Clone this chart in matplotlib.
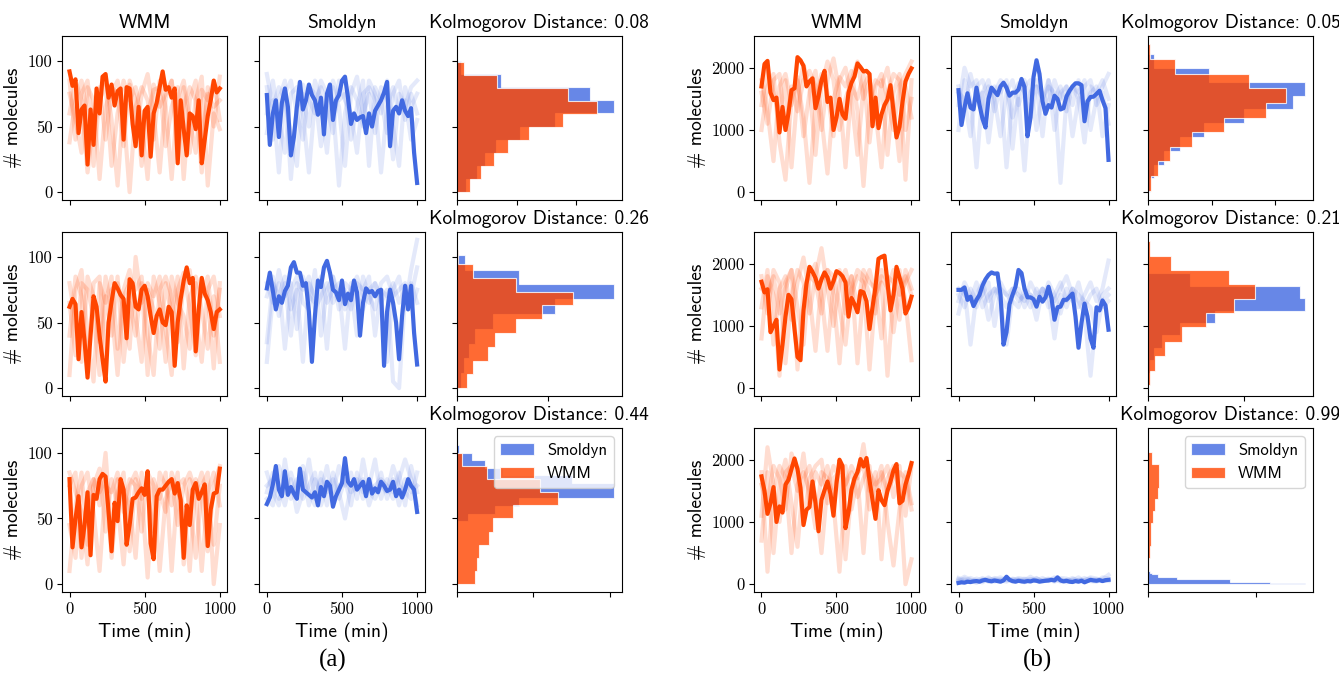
import numpy as np
import matplotlib
matplotlib.use('Agg')
import matplotlib.pyplot as plt

plt.rcParams['font.family'] = ['cmss10', 'DejaVu Sans']
plt.rcParams['axes.unicode_minus'] = False

WMM_COLOR = 'orangered'
SMOL_COLOR = 'royalblue'

# time grids (min)
t_main = np.arange(0, 1001, 20)
t_runs = np.arange(0, 1001, 40)

# ---------------- panel (a) ----------------
a1_wmm = [92, 81, 86, 45, 63, 66, 21, 63, 36, 79, 60, 88, 90, 72, 82, 66, 77, 79, 40, 80,
          79, 52, 35, 65, 28, 62, 65, 27, 60, 68, 80, 92, 78, 80, 72, 79, 22, 70, 48, 28,
          60, 58, 48, 70, 22, 40, 58, 70, 85, 76, 79]
a1_wmm_runs = [
    [38, 70, 85, 60, 20, 75, 88, 55, 5, 70, 82, 40, 75, 90, 60, 15, 72, 85, 50, 80, 30, 70, 88, 5, 60, 48],
    [75, 55, 30, 80, 70, 10, 65, 80, 75, 35, 85, 70, 20, 60, 78, 80, 35, 65, 80, 10, 70, 85, 40, 75, 65, 70],
    [60, 85, 70, 15, 55, 80, 40, 75, 85, 60, 0, 65, 80, 70, 40, 85, 65, 10, 72, 85, 55, 30, 78, 70, 85, 55],
    [85, 40, 75, 85, 45, 70, 82, 20, 60, 85, 70, 80, 55, 10, 82, 65, 75, 85, 25, 65, 80, 70, 15, 80, 50, 88],
]
a1_smol = [74, 36, 60, 70, 42, 68, 79, 65, 28, 42, 65, 84, 63, 70, 82, 74, 70, 59, 72, 44,
           75, 82, 55, 70, 74, 85, 88, 72, 52, 60, 55, 57, 58, 45, 60, 50, 62, 66, 70, 76,
           84, 35, 62, 65, 60, 70, 62, 58, 64, 30, 7]
a1_smol_runs = [
    [80, 40, 70, 85, 10, 65, 75, 50, 85, 70, 30, 80, 65, 20, 75, 88, 60, 75, 45, 80, 70, 25, 75, 65, 80, 85],
    [60, 85, 55, 30, 75, 80, 60, 15, 70, 80, 65, 45, 85, 70, 60, 30, 75, 80, 70, 15, 65, 80, 60, 70, 40, 55],
    [90, 65, 80, 70, 45, 20, 82, 70, 60, 85, 75, 65, 5, 60, 80, 70, 50, 85, 75, 60, 85, 50, 20, 80, 65, 75],
    [45, 70, 15, 75, 85, 60, 40, 80, 75, 35, 60, 85, 70, 75, 40, 65, 85, 20, 80, 70, 45, 75, 85, 55, 75, 60],
]

a2_wmm = [62, 68, 64, 22, 58, 36, 8, 40, 70, 62, 40, 22, 5, 50, 66, 80, 76, 71, 68, 38,
          83, 80, 62, 60, 75, 78, 70, 55, 42, 55, 60, 50, 48, 62, 58, 17, 50, 68, 82, 92,
          80, 84, 28, 60, 84, 72, 67, 58, 45, 58, 60]
a2_wmm_runs = [
    [10, 75, 90, 40, 5, 80, 65, 85, 30, 75, 90, 55, 20, 80, 70, 85, 45, 10, 75, 88, 60, 25, 80, 70, 15, 80],
    [80, 50, 20, 85, 70, 35, 85, 60, 10, 70, 80, 75, 85, 40, 10, 75, 85, 70, 35, 80, 90, 55, 20, 75, 85, 55],
    [40, 85, 70, 15, 80, 85, 25, 75, 80, 60, 30, 100, 65, 75, 60, 30, 80, 55, 85, 15, 70, 80, 60, 30, 70, 20],
    [65, 25, 80, 75, 55, 10, 70, 40, 85, 20, 65, 40, 80, 10, 85, 65, 20, 85, 65, 55, 30, 85, 70, 85, 40, 75],
]
a2_smol = [76, 88, 74, 60, 70, 65, 74, 78, 92, 96, 88, 88, 78, 80, 58, 20, 55, 82, 77, 92,
           97, 88, 75, 73, 67, 82, 64, 72, 67, 82, 73, 40, 65, 76, 73, 74, 70, 74, 75, 17,
           58, 75, 65, 50, 22, 55, 78, 60, 78, 42, 18]
a2_smol_runs = [
    [35, 80, 70, 85, 60, 75, 20, 80, 70, 85, 65, 75, 80, 60, 75, 85, 70, 65, 80, 70, 20, 75, 85, 60, 90, 113],
    [80, 65, 90, 70, 80, 45, 85, 70, 65, 80, 30, 85, 70, 75, 60, 80, 75, 85, 40, 75, 70, 80, 65, 75, 70, 92],
    [70, 85, 55, 80, 40, 80, 75, 85, 60, 70, 80, 65, 75, 30, 80, 70, 60, 75, 80, 65, 75, 5, 0, 70, 80, 65],
    [20, 70, 80, 30, 75, 85, 65, 60, 90, 40, 75, 85, 60, 80, 75, 40, 85, 70, 60, 80, 85, 70, 75, 80, 60, 75],
]

a3_wmm = [80, 28, 50, 67, 28, 45, 70, 22, 68, 65, 80, 84, 82, 55, 25, 62, 48, 80, 72, 30,
          45, 65, 66, 70, 73, 68, 86, 31, 19, 67, 72, 72, 75, 78, 80, 69, 77, 64, 20, 60,
          45, 72, 77, 65, 70, 76, 29, 57, 69, 70, 88]
a3_wmm_runs = [
    [10, 60, 85, 30, 75, 88, 40, 80, 60, 15, 75, 85, 70, 5, 80, 65, 85, 10, 75, 80, 60, 20, 75, 85, 0, 45],
    [75, 85, 20, 70, 80, 60, 100, 35, 80, 70, 60, 20, 85, 70, 40, 85, 75, 60, 85, 15, 80, 70, 85, 60, 30, 75],
    [45, 20, 75, 85, 55, 10, 75, 70, 85, 55, 80, 75, 40, 85, 75, 10, 65, 80, 45, 75, 85, 70, 10, 70, 85, 60],
    [85, 70, 55, 15, 80, 70, 80, 20, 70, 85, 25, 80, 65, 75, 20, 70, 55, 85, 70, 60, 10, 80, 65, 25, 75, 90],
]
a3_smol = [61, 66, 76, 90, 72, 67, 86, 68, 74, 69, 65, 88, 72, 70, 68, 66, 70, 60, 74, 67,
           78, 75, 59, 67, 72, 77, 96, 78, 75, 80, 72, 75, 78, 67, 80, 69, 73, 70, 78, 75,
           71, 72, 78, 67, 72, 66, 72, 80, 75, 72, 55]
a3_smol_runs = [
    [85, 70, 60, 95, 65, 75, 85, 60, 80, 70, 90, 65, 75, 80, 60, 85, 70, 75, 95, 65, 80, 70, 85, 60, 90, 70],
    [70, 85, 75, 60, 80, 55, 70, 95, 65, 80, 60, 85, 70, 50, 75, 80, 65, 80, 70, 85, 65, 80, 60, 80, 70, 75],
    [65, 60, 90, 75, 70, 80, 65, 75, 85, 60, 75, 70, 90, 75, 85, 65, 95, 70, 65, 75, 70, 90, 75, 70, 65, 85],
    [75, 80, 65, 70, 85, 70, 90, 70, 60, 85, 70, 80, 65, 80, 70, 75, 80, 60, 75, 80, 75, 65, 80, 95, 80, 60],
]

# histograms (density per bin, bottom -> top), bin edges in molecules
a1_hist_smol_edges = np.linspace(0, 100, 11)
a1_hist_smol = [0.0016, 0.0034, 0.0048, 0.0066, 0.0105, 0.0165, 0.0263, 0.0222, 0.0074, 0.0008]
a1_hist_wmm_edges = np.linspace(0, 99, 11)
a1_hist_wmm = [0.0022, 0.0041, 0.0063, 0.0086, 0.0120, 0.0177, 0.0234, 0.0186, 0.0067, 0.0013]

a2_hist_smol_edges = np.linspace(0, 113, 11)
a2_hist_smol = [0.0009, 0.0015, 0.0026, 0.0040, 0.0079, 0.0215, 0.0345, 0.0136, 0.0018, 0.0001]
a2_hist_wmm_edges = np.linspace(0, 105, 11)
a2_hist_wmm = [0.0022, 0.0035, 0.0068, 0.0085, 0.0131, 0.0187, 0.0254, 0.0131, 0.0035, 0.0002]

a3_hist_smol_edges = np.linspace(48, 106, 11)
a3_hist_smol = [0.003, 0.010, 0.0163, 0.041, 0.041, 0.030, 0.012, 0.0074, 0.004, 0.0007]
a3_hist_wmm_edges = np.linspace(0, 100, 11)
a3_hist_wmm = [0.0048, 0.0052, 0.0059, 0.0083, 0.0094, 0.0146, 0.0263, 0.0218, 0.0078, 0.0013]

ks_a = [0.08, 0.26, 0.44]

# ---------------- panel (b) ----------------
b1_wmm = [1700, 2060, 2110, 1600, 1480, 1520, 960, 1370, 1000, 1270, 1640, 1670, 2170, 2120, 2030,
          1700, 1780, 1830, 1350, 1540, 1800, 1950, 1450, 1520, 1000, 1200, 1500, 1250, 1180, 1600,
          1760, 1860, 2070, 2010, 1940, 1950, 1900, 1060, 1520, 1030, 1250, 1400, 1490, 1720, 1300,
          880, 1050, 1450, 1780, 1900, 1990]
b1_wmm_runs = [
    [1000, 1700, 1900, 800, 200, 1500, 1800, 1200, 150, 1400, 1900, 1600, 900, 1800, 2000, 1500, 600, 1700, 1900, 1100, 1800, 600, 1600, 1900, 1000, 1500],
    [1800, 1300, 500, 1700, 1900, 1400, 1850, 900, 1600, 1950, 1200, 300, 1500, 1850, 1700, 1950, 1300, 100, 1400, 1800, 1700, 2000, 1400, 500, 1700, 1200],
    [1400, 2000, 1600, 1200, 1800, 400, 1600, 2050, 1700, 600, 1700, 2100, 1800, 1000, 1500, 1800, 2100, 1500, 1800, 1300, 400, 1600, 1900, 1800, 200, 1800],
    [1600, 1100, 1800, 1900, 1000, 1700, 1300, 1800, 1950, 1700, 1000, 1800, 2150, 1600, 400, 1700, 1500, 1900, 800, 1700, 1900, 1500, 1000, 1700, 1900, 2100],
]
b1_smol = [1640, 1080, 1360, 1590, 1360, 1330, 1680, 1400, 1180, 1040, 1500, 1680, 1620, 1560, 1700,
           1760, 1680, 1550, 1600, 1600, 1650, 1820, 1690, 900, 1200, 1850, 2120, 1900, 1460, 1260,
           1400, 1360, 1550, 1500, 1330, 1350, 1540, 1630, 1700, 1750, 1750, 1720, 1140, 1460, 1530,
           1535, 1580, 1630, 1480, 1350, 520]
b1_smol_runs = [
    [1000, 1800, 1500, 400, 1600, 1800, 1300, 1700, 400, 1500, 1750, 1600, 1200, 1700, 1500, 1800, 1000, 1600, 1700, 1400, 1800, 1200, 1600, 1700, 900, 1400],
    [1700, 1300, 1900, 1500, 1600, 800, 1600, 1800, 1700, 1200, 1500, 350, 1600, 1800, 1500, 1700, 1600, 150, 1500, 1700, 1600, 1800, 1000, 1500, 1700, 1900],
    [1400, 2000, 1700, 1800, 1200, 1700, 1500, 900, 1600, 1800, 1400, 1700, 1800, 1000, 1600, 1400, 1800, 1500, 1700, 900, 1500, 1700, 1800, 1400, 1600, 1100],
    [1600, 1500, 900, 1700, 1800, 1500, 1700, 1600, 1800, 700, 1600, 1800, 1500, 1700, 900, 1800, 1500, 1700, 1300, 1700, 1500, 800, 1700, 1600, 1800, 1500],
]

b2_wmm = [1710, 1540, 1590, 900, 1000, 1100, 300, 700, 1150, 1500, 1430, 950, 500, 450, 1250,
          1680, 1950, 1870, 1770, 1600, 1750, 1860, 1780, 1600, 1720, 1880, 1850, 1800, 1700, 1150,
          1450, 1350, 1220, 1560, 1540, 1400, 950, 1300, 1630, 2080, 2110, 2130, 1700, 1250, 1500,
          1950, 1780, 1600, 1200, 1300, 1470]
b2_wmm_runs = [
    [800, 1800, 1500, 200, 1600, 1900, 1300, 700, 1800, 2000, 1500, 600, 1700, 1900, 1200, 1800, 400, 1600, 1900, 1500, 1700, 200, 1500, 1900, 1400, 450],
    [1800, 1200, 1900, 1700, 400, 1500, 1900, 1700, 1200, 1800, 2250, 1600, 1000, 1700, 1900, 1500, 1800, 1700, 300, 1500, 1800, 1600, 1900, 1500, 1700, 1900],
    [1300, 1900, 700, 1600, 1800, 1100, 1700, 2100, 1500, 600, 1700, 1900, 1800, 1300, 700, 1600, 1900, 1800, 1500, 1200, 1900, 1700, 900, 1600, 1800, 1500],
    [1600, 1500, 1800, 1200, 1700, 1900, 300, 1600, 1800, 1700, 1200, 1900, 1500, 400, 1600, 1800, 1300, 1900, 1700, 1600, 800, 1800, 1700, 1100, 1900, 1600],
]
b2_smol = [1580, 1580, 1620, 1420, 1470, 1320, 1420, 1500, 1650, 1750, 1820, 1860, 1840, 1845, 1500,
           700, 900, 1350, 1500, 1630, 1900, 1850, 1600, 1460, 1460, 1430, 1310, 1470, 1390, 1460,
           1630, 1450, 1100, 1300, 1310, 1420, 1420, 1470, 1520, 1150, 650, 1050, 1360, 1150, 800,
           650, 1300, 1250, 1410, 1330, 940]
b2_smol_runs = [
    [1200, 1600, 700, 1500, 1700, 1400, 1600, 1500, 1300, 1600, 1500, 1400, 1700, 1500, 1600, 1300, 1500, 1700, 1400, 1600, 1300, 1500, 1700, 1400, 1600, 2050],
    [1500, 1300, 1600, 1400, 1500, 1700, 1000, 1600, 1500, 1400, 1300, 1600, 1500, 1100, 1600, 1500, 1400, 1600, 1800, 1500, 1400, 1200, 200, 1200, 1500, 1600],
    [1600, 1500, 1400, 1700, 1300, 1500, 1600, 1400, 700, 1500, 1600, 1300, 1500, 1400, 1600, 1500, 800, 1500, 1300, 1600, 1500, 1400, 1300, 900, 1400, 1500],
    [1400, 1700, 1500, 1300, 1600, 1100, 1500, 1700, 1500, 1600, 1400, 1500, 1300, 1600, 1400, 1700, 1500, 1200, 1600, 1400, 1700, 1300, 1500, 1600, 1300, 1400],
]

b3_wmm = [1732, 1500, 1130, 1300, 1560, 1000, 1250, 1150, 1600, 1678, 1850, 2020, 1850, 1550, 950,
          1196, 1240, 1651, 1300, 850, 1356, 1510, 1650, 1450, 1100, 1624, 2000, 1900, 900, 1150,
          1520, 1700, 1800, 2010, 1890, 2027, 1670, 1356, 1050, 1510, 1350, 1270, 1500, 1650, 1830,
          1930, 1300, 1340, 1600, 1760, 1946]
b3_wmm_runs = [
    [700, 1800, 500, 1600, 2000, 1300, 600, 1700, 1900, 1400, 500, 1600, 1900, 1700, 400, 1500, 1800, 1900, 1200, 1600, 1900, 1000, 300, 1200, 1800, 1300],
    [1100, 2200, 1600, 1000, 1800, 1900, 1500, 2100, 1300, 1800, 1600, 1900, 1300, 200, 1600, 1900, 1700, 2250, 1500, 1800, 400, 1700, 1900, 1500, 0, 400],
    [1600, 1300, 1900, 1700, 1200, 2100, 1800, 1000, 1700, 1900, 2000, 1300, 1700, 1800, 1900, 1200, 1700, 500, 1800, 1600, 1700, 1900, 1400, 1800, 1700, 1200],
    [1800, 200, 1500, 1900, 1700, 500, 1600, 1800, 1500, 900, 1800, 1700, 1400, 1900, 1600, 1800, 1400, 1700, 1900, 1100, 1800, 1500, 1700, 1900, 1100, 1900],
]
b3_smol = [20, 30, 25, 40, 35, 45, 50, 40, 60, 70, 55, 45, 60, 50, 40, 60, 120, 70, 50, 40,
           55, 45, 40, 50, 45, 60, 55, 40, 50, 55, 60, 70, 60, 110, 60, 45, 55, 40, 35, 50,
           40, 55, 30, 50, 70, 60, 55, 65, 50, 65, 70]
b3_smol_runs = [
    [80, 40, 100, 60, 30, 90, 70, 50, 110, 40, 80, 60, 120, 50, 70, 90, 40, 80, 60, 100, 50, 70, 90, 60, 80, 150],
    [40, 90, 60, 20, 80, 50, 100, 60, 40, 90, 70, 30, 80, 60, 100, 50, 90, 40, 70, 60, 110, 40, 60, 80, 50, 70],
    [100, 60, 30, 90, 60, 110, 40, 80, 70, 60, 100, 80, 40, 90, 50, 60, 110, 70, 30, 80, 60, 100, 50, 40, 110, 90],
    [60, 120, 70, 50, 100, 40, 80, 110, 60, 80, 50, 90, 70, 100, 40, 80, 60, 100, 90, 40, 70, 60, 110, 90, 60, 50],
]

b1_hist_smol_edges = np.linspace(0, 2219, 11)
b1_hist_smol = [0.0000184, 0.0000447, 0.000124, 0.00025, 0.000439, 0.000755, 0.001136, 0.001233, 0.000479, 0.0000447]
b1_hist_wmm_edges = np.linspace(27, 2374, 11)
b1_hist_wmm = [0.000026, 0.000079, 0.000171, 0.000347, 0.000597, 0.000926, 0.001079, 0.000789, 0.00021, 0.000018]

b2_hist_smol_edges = np.linspace(48, 2048, 11)
b2_hist_smol = [0.000014, 0.0000245, 0.00006, 0.000147, 0.000329, 0.0007, 0.00164, 0.00159, 0.00044, 0.000007]
b2_hist_wmm_edges = np.linspace(54, 2359, 11)
b2_hist_wmm = [0.0000245, 0.00007, 0.000182, 0.00035, 0.000602, 0.0009, 0.00112, 0.00084, 0.000245, 0.0000245]

b3_hist_smol_edges = np.linspace(0, 204, 11)
b3_hist_smol = [0.01454, 0.01132, 0.0076, 0.0076, 0.0027, 0.0027, 0.00093, 0.00093, 0.00037, 0.00022]
b3_hist_wmm_edges = np.linspace(231, 2118, 11)
b3_hist_wmm = [0.000093, 0.000155, 0.000248, 0.00031, 0.000465, 0.00068, 0.00093, 0.00099, 0.00099, 0.00037]

ks_b = [0.05, 0.21, 0.99]


def draw_block(gs, rows, ks, ylim, yticks):
    axes = np.empty((3, 3), dtype=object)
    ref = None
    for r in range(3):
        for c in range(3):
            if ref is None:
                ax = fig.add_subplot(gs[r, c])
                ref = ax
            elif c < 2:
                ax = fig.add_subplot(gs[r, c], sharey=ref, sharex=axes[0, 0])
            else:
                ax = fig.add_subplot(gs[r, c], sharey=ref)
            axes[r, c] = ax

    for r, (wmm, wmm_runs, smol, smol_runs, hs_e, hs, hw_e, hw) in enumerate(rows):
        ax_w, ax_s, ax_h = axes[r]
        for run in wmm_runs:
            ax_w.plot(t_runs, run, color=WMM_COLOR, alpha=0.18, lw=3)
        ax_w.plot(t_main, wmm, color=WMM_COLOR, lw=3)
        for run in smol_runs:
            ax_s.plot(t_runs, run, color=SMOL_COLOR, alpha=0.14, lw=3)
        ax_s.plot(t_main, smol, color=SMOL_COLOR, lw=3)

        ax_h.stairs(hs, hs_e, orientation='horizontal', fill=True, facecolor=SMOL_COLOR,
                    edgecolor='white', linewidth=0.8, alpha=0.8, label='Smoldyn')
        ax_h.stairs(hw, hw_e, orientation='horizontal', fill=True, facecolor=WMM_COLOR,
                    edgecolor='white', linewidth=0.8, alpha=0.8, label='WMM')
        ax_h.set_title(f'Kolmogorov Distance: {ks[r]:.2f}', fontsize=14)
        ax_h.set_xlim(left=0)
        ax_h.tick_params(labelleft=False, labelbottom=False)

        ax_w.set_yticks(yticks, labels=[str(v) for v in yticks], fontfamily='cmr10', fontsize=12)
        ax_w.set_ylabel('# molecules', fontsize=14)
        ax_s.tick_params(labelleft=False)
        ax_w.set_xticks([0, 500, 1000], labels=['0', '500', '1000'], fontfamily='cmr10', fontsize=12)
        if r < 2:
            ax_w.tick_params(labelbottom=False)
            ax_s.tick_params(labelbottom=False)
        else:
            ax_s.set_xticks([0, 500, 1000], labels=['0', '500', '1000'], fontfamily='cmr10', fontsize=12)
            ax_w.set_xlabel('Time (min)', fontsize=14)
            ax_s.set_xlabel('Time (min)', fontsize=14)
            ax_h.legend(loc='upper right', fontsize=12)
    ref.set_ylim(*ylim)
    axes[0, 0].set_title('WMM', fontsize=14)
    axes[0, 1].set_title('Smoldyn', fontsize=14)
    return axes


fig = plt.figure(figsize=(13.39, 6.73), dpi=100)
gs_a = fig.add_gridspec(3, 3, left=0.0463, right=0.4645, top=0.9465, bottom=0.1204,
                        wspace=0.194, hspace=0.195)
gs_b = fig.add_gridspec(3, 3, left=0.5631, right=0.9806, top=0.9465, bottom=0.1204,
                        wspace=0.194, hspace=0.195)

rows_a = [
    (a1_wmm, a1_wmm_runs, a1_smol, a1_smol_runs, a1_hist_smol_edges, a1_hist_smol, a1_hist_wmm_edges, a1_hist_wmm),
    (a2_wmm, a2_wmm_runs, a2_smol, a2_smol_runs, a2_hist_smol_edges, a2_hist_smol, a2_hist_wmm_edges, a2_hist_wmm),
    (a3_wmm, a3_wmm_runs, a3_smol, a3_smol_runs, a3_hist_smol_edges, a3_hist_smol, a3_hist_wmm_edges, a3_hist_wmm),
]
rows_b = [
    (b1_wmm, b1_wmm_runs, b1_smol, b1_smol_runs, b1_hist_smol_edges, b1_hist_smol, b1_hist_wmm_edges, b1_hist_wmm),
    (b2_wmm, b2_wmm_runs, b2_smol, b2_smol_runs, b2_hist_smol_edges, b2_hist_smol, b2_hist_wmm_edges, b2_hist_wmm),
    (b3_wmm, b3_wmm_runs, b3_smol, b3_smol_runs, b3_hist_smol_edges, b3_hist_smol, b3_hist_wmm_edges, b3_hist_wmm),
]

draw_block(gs_a, rows_a, ks_a, (-6, 119), [0, 50, 100])
draw_block(gs_b, rows_b, ks_b, (-125, 2510), [0, 1000, 2000])

fig.text(0.2487, 0.019, '(a)', ha='center', va='center', fontsize=18, family='Liberation Serif')
fig.text(0.7745, 0.019, '(b)', ha='center', va='center', fontsize=18, family='Liberation Serif')

fig.savefig('out.png', dpi=100)
